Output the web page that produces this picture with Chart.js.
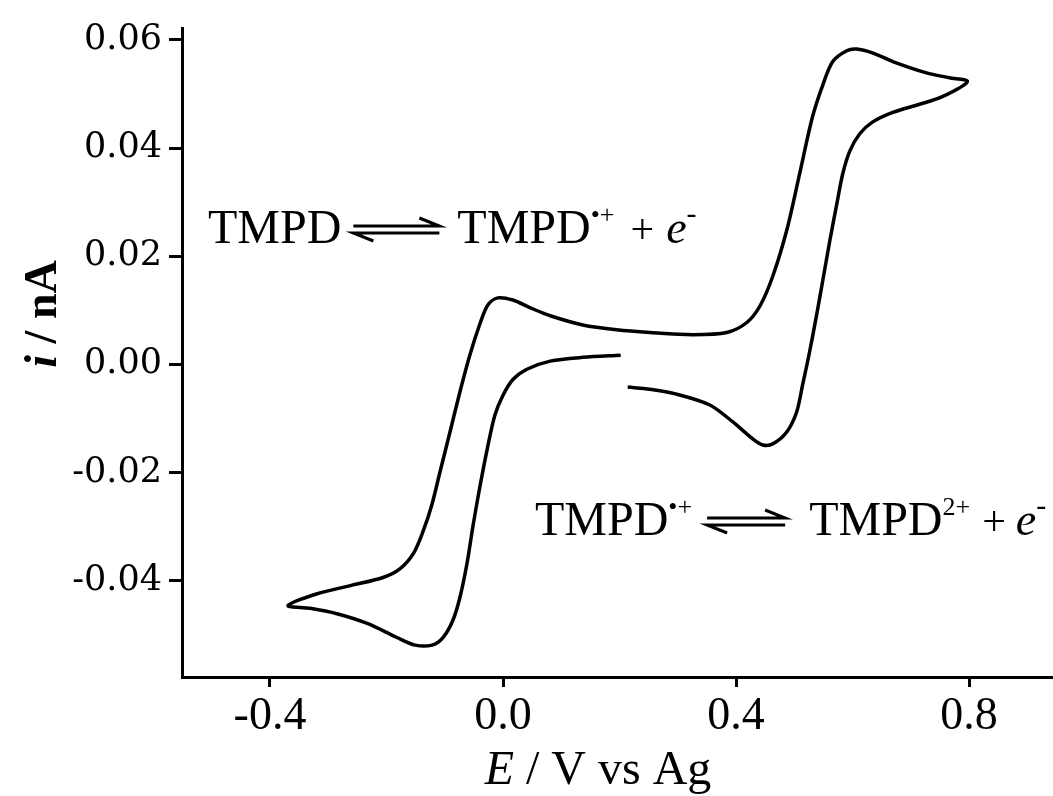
<!DOCTYPE html>
<html lang="en">
<head>
    <meta charset="UTF-8">
    <script src="https://cdn.jsdelivr.net/npm/chart.js"></script>
    <title>TMPD CV</title>
    <style>
        body { margin: 0; background: #fff; }
        .wrap { width: 1053px; height: 796px; }
    </style>
</head>
<body>
    <div class="wrap">
        <canvas id="cvChart" width="1053" height="796"></canvas>
    </div>
    <script>
        // potential (V vs Ag) and current (nA) in sweep order
        const potential = [
            0.202, 0.137, 0.081, 0.041, 0.017, 0.000, -0.014, -0.027, -0.039, -0.051,
            -0.062, -0.074, -0.086, -0.103, -0.122, -0.151, -0.182, -0.233, -0.285, -0.331,
            -0.369,
            -0.319, -0.262, -0.206, -0.177, -0.154, -0.137, -0.122, -0.108, -0.091, -0.074,
            -0.057, -0.039, -0.026, -0.009, 0.017, 0.046, 0.081, 0.137, 0.195, 0.252,
            0.326, 0.384, 0.418, 0.441, 0.463, 0.487, 0.509, 0.531, 0.549, 0.566,
            0.590, 0.607, 0.634, 0.669, 0.727, 0.766, 0.797,
            0.754, 0.715, 0.669, 0.634, 0.612, 0.595, 0.583, 0.573, 0.561, 0.549,
            0.538, 0.526, 0.514, 0.504, 0.487, 0.463, 0.446, 0.429, 0.394, 0.355,
            0.298, 0.252, 0.214
        ];
        const current = [
            0.0017, 0.0013, 0.0006, -0.0009, -0.0028, -0.0057, -0.0094, -0.0156, -0.0222, -0.0295,
            -0.0369, -0.0431, -0.0473, -0.0505, -0.0519, -0.0519, -0.0505, -0.0479, -0.0461, -0.0451,
            -0.0446,
            -0.0424, -0.0409, -0.0394, -0.0378, -0.0350, -0.0308, -0.0259, -0.0198, -0.0125, -0.0051,
            0.0017, 0.0077, 0.0110, 0.0123, 0.0119, 0.0105, 0.0090, 0.0073, 0.0064, 0.0059,
            0.0055, 0.0059, 0.0077, 0.0108, 0.0163, 0.0248, 0.0352, 0.0457, 0.0517, 0.0560,
            0.0580, 0.0583, 0.0576, 0.0560, 0.0539, 0.0530, 0.0523,
            0.0495, 0.0481, 0.0466, 0.0448, 0.0426, 0.0394, 0.0352, 0.0297, 0.0229, 0.0156,
            0.0090, 0.0022, -0.0039, -0.0088, -0.0125, -0.0147, -0.0149, -0.0138, -0.0106, -0.0075,
            -0.0055, -0.0046, -0.0042
        ];
        const xTicks = [-0.4, 0.0, 0.4, 0.8];
        const yTicks = [-0.04, -0.02, 0.00, 0.02, 0.04, 0.06];

        const points = potential.map((v, k) => ({ x: v, y: current[k] }));

        function drawRuns(ctx, x, y, runs) {
            runs.forEach(r => {
                x += r.gap || 0;
                if (r.arrow) {
                    const yt = y - 17, yb = y - 10;
                    ctx.beginPath();
                    ctx.moveTo(x, yt); ctx.lineTo(x + r.len, yt); ctx.lineTo(x + r.len - 20, yt - 8);
                    ctx.moveTo(x + r.len, yb); ctx.lineTo(x, yb); ctx.lineTo(x + 20, yb + 8);
                    ctx.lineWidth = 3;
                    ctx.strokeStyle = '#000';
                    ctx.stroke();
                    x += r.len;
                    return;
                }
                ctx.font = r.font;
                ctx.fillText(r.t, x, y + (r.dy || 0));
                x += ctx.measureText(r.t).width;
            });
        }

        const serif = '"Liberation Serif"';
        const textPlugin = {
            id: 'textPlugin',
            afterDraw(chart) {
                const ctx = chart.ctx;
                ctx.save();
                ctx.fillStyle = '#000';
                ctx.textBaseline = 'alphabetic';
                ctx.textAlign = 'left';

                // y title, rotated
                ctx.save();
                ctx.translate(56, 314);
                ctx.rotate(-Math.PI / 2);
                ctx.font = 'bold italic 46px ' + serif;
                const w1 = ctx.measureText('i').width;
                ctx.font = 'bold 46px ' + serif;
                const w2 = ctx.measureText(' / nA').width;
                drawRuns(ctx, -(w1 + w2) / 2, 0, [
                    { t: 'i', font: 'bold italic 46px ' + serif },
                    { t: ' / nA', font: 'bold 46px ' + serif }
                ]);
                ctx.restore();

                // x title
                ctx.font = 'italic 48px ' + serif;
                const e1 = ctx.measureText('E').width;
                ctx.font = '48px ' + serif;
                const e2 = ctx.measureText(' / V vs Ag').width;
                drawRuns(ctx, 598 - (e1 + e2) / 2, 784, [
                    { t: 'E', font: 'italic 48px ' + serif },
                    { t: ' / V vs Ag', font: '48px ' + serif }
                ]);

                // reaction labels
                drawRuns(ctx, 208, 243, [
                    { t: 'TMPD', font: '48px ' + serif },
                    { arrow: true, gap: 12, len: 86 },
                    { t: 'TMPD', font: '48px ' + serif, gap: 18 },
                    { t: '•+', font: '26px ' + serif, dy: -20 },
                    { t: '+', font: '42px ' + serif, gap: 16 },
                    { t: 'e', font: 'italic 46px ' + serif, gap: 12 },
                    { t: '-', font: '30px ' + serif, dy: -20 }
                ]);
                drawRuns(ctx, 535, 535, [
                    { t: 'TMPD', font: '48px ' + serif },
                    { t: '•+', font: '26px ' + serif, dy: -20 },
                    { arrow: true, gap: 15, len: 78 },
                    { t: 'TMPD', font: '48px ' + serif, gap: 24 },
                    { t: '2+', font: '26px ' + serif, dy: -20 },
                    { t: '+', font: '42px ' + serif, gap: 12 },
                    { t: 'e', font: 'italic 46px ' + serif, gap: 10 },
                    { t: '-', font: '30px ' + serif, dy: -20 }
                ]);
                ctx.restore();
            }
        };

        const ctxCv = document.getElementById('cvChart').getContext('2d');
        const cvChart = new Chart(ctxCv, {
            type: 'scatter',
            data: {
                datasets: [{
                    data: points,
                    showLine: true,
                    borderColor: '#000',
                    borderWidth: 3.5,
                    pointRadius: 0,
                    tension: 0.3,
                    fill: false
                }]
            },
            options: {
                responsive: false,
                animation: false,
                layout: { padding: { top: 22, right: 0, left: 0, bottom: 0 } },
                plugins: { legend: { display: false }, tooltip: { enabled: false } },
                scales: {
                    x: {
                        type: 'linear',
                        min: -0.551,
                        max: 0.944,
                        afterFit(s) { s.height = 119; },
                        afterBuildTicks(s) { s.ticks = xTicks.map(v => ({ value: v })); },
                        ticks: {
                            color: '#000',
                            font: { family: 'Liberation Serif', size: 46 },
                            padding: 2,
                            maxRotation: 0,
                            autoSkip: false,
                            callback: v => v.toFixed(1)
                        },
                        grid: { drawOnChartArea: false, tickLength: 10, tickWidth: 3, tickColor: '#000' },
                        border: { color: '#000', width: 3 }
                    },
                    y: {
                        type: 'linear',
                        min: -0.0578,
                        max: 0.0622,
                        afterFit(s) { s.width = 182; },
                        afterBuildTicks(s) { s.ticks = yTicks.map(v => ({ value: v })); },
                        ticks: {
                            color: '#000',
                            font: { family: 'DejaVu Serif', size: 35 },
                            padding: 7,
                            autoSkip: false,
                            callback: v => v.toFixed(2)
                        },
                        grid: { drawOnChartArea: false, tickLength: 13, tickWidth: 3, tickColor: '#000' },
                        border: { color: '#000', width: 3 }
                    }
                }
            },
            plugins: [textPlugin]
        });
    </script>
</body>
</html>
